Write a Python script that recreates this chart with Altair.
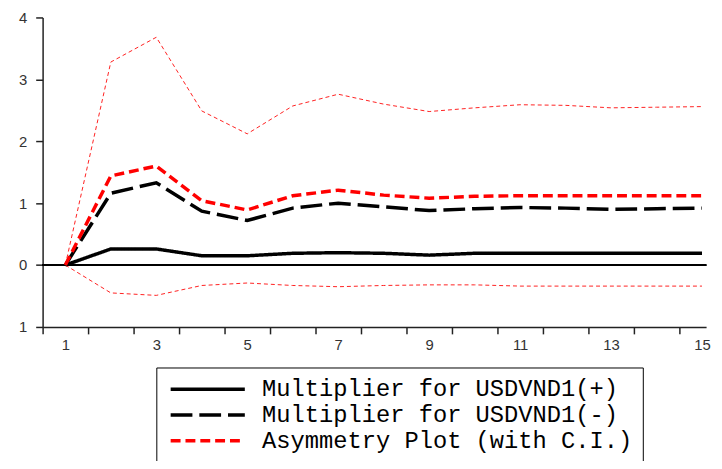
import altair as alt
import pandas as pd

periods = list(range(1, 16))
mult_pos = [0, 0.26, 0.26, 0.15, 0.15, 0.19, 0.20, 0.19, 0.16, 0.19, 0.19, 0.19, 0.19, 0.19, 0.19]
mult_neg = [0, 1.16, 1.33, 0.87, 0.72, 0.92, 1.00, 0.94, 0.88, 0.91, 0.93, 0.92, 0.90, 0.91, 0.92]
asym = [0, 1.44, 1.60, 1.04, 0.89, 1.12, 1.21, 1.13, 1.08, 1.11, 1.12, 1.12, 1.12, 1.12, 1.12]
ci_upper = [0, 3.28, 3.68, 2.49, 2.12, 2.57, 2.76, 2.60, 2.48, 2.54, 2.59, 2.58, 2.54, 2.55, 2.56]
ci_lower = [0, -0.45, -0.49, -0.33, -0.29, -0.33, -0.35, -0.33, -0.32, -0.32, -0.34, -0.34, -0.34, -0.34, -0.34]

x_tick_marks = [i + 0.5 for i in range(0, 16)]
x_tick_labels = [1, 3, 5, 7, 9, 11, 13, 15]
y_ticks = [-1, 0, 1, 2, 3, 4]

names = ["Multiplier for USDVND1(+)", "Multiplier for USDVND1(-)", "Asymmetry Plot (with C.I.)"]

rows = []
for name, vals in zip(names, [mult_pos, mult_neg, asym]):
    for k, v in zip(periods, vals):
        rows.append({"k": k, "v": v, "series": name})
df = pd.DataFrame(rows)

ci_rows = []
for name, vals in zip(["upper", "lower"], [ci_upper, ci_lower]):
    for k, v in zip(periods, vals):
        ci_rows.append({"k": k, "v": v, "band": name})
df_ci = pd.DataFrame(ci_rows)

xscale = alt.Scale(domain=[0.5, 15.09], nice=False, zero=False)
yscale = alt.Scale(domain=[-1, 4], nice=False, zero=False)

yaxis = alt.Axis(values=y_ticks, title=None, grid=False, tickSize=7, labelPadding=9,
                 labelExpr="datum.value < 0 ? '1' : datum.label",
                 labelFont="Liberation Sans", labelFontSize=15, labelColor="#333333",
                 domainColor="#222222", tickColor="#222222")

legend = alt.Legend(orient="none", legendX=115, legendY=354, title=None,
                    symbolType="M-1,0H9", symbolSize=225, symbolStrokeWidth=4,
                    labelFontSize=24, labelFont="Liberation Mono", labelColor="black",
                    labelLimit=700, strokeColor="black", fillColor="white",
                    padding=10, rowPadding=2, labelOffset=73)

zero_rule = alt.Chart(df_ci).mark_rule(color="black", strokeWidth=1).encode(
    y=alt.datum(0, scale=yscale, axis=yaxis)
)

ci = alt.Chart(df_ci).mark_line(color="#ff2020", strokeWidth=1, strokeDash=[4, 3]).encode(
    x=alt.X("k:Q", scale=xscale,
            axis=alt.Axis(values=x_tick_marks, labels=False, title=None, grid=False, tickSize=7,
                          orient="bottom", domainColor="#222222", tickColor="#222222")),
    y=alt.Y("v:Q", scale=yscale, axis=yaxis),
    detail="band:N",
)

lines = alt.Chart(df).mark_line().encode(
    x=alt.X("k:Q", scale=xscale,
            axis=alt.Axis(values=x_tick_labels, ticks=False, domain=False, title=None, grid=False,
                          orient="bottom", labelPadding=11, labelFont="Liberation Sans",
                          labelFontSize=15, labelColor="#333333")),
    y=alt.Y("v:Q", scale=yscale, axis=yaxis),
    color=alt.Color("series:N", scale=alt.Scale(domain=names, range=["#000000", "#000000", "#ff0000"]),
                    legend=legend),
    strokeDash=alt.StrokeDash("series:N", scale=alt.Scale(domain=names, range=[[1, 0], [22, 7], [10, 5]]),
                              legend=legend),
    strokeWidth=alt.StrokeWidth("series:N", scale=alt.Scale(domain=names, range=[3.5, 3.5, 4]), legend=None),
)

chart = alt.layer(zero_rule, ci, lines).resolve_axis(x="independent").properties(
    width=671, height=313,
    autosize=alt.AutoSizeParams(type="none"),
    padding={"left": 35, "top": 7, "right": 8, "bottom": 133},
).configure_view(stroke=None).configure_axis(domainWidth=1.5, tickWidth=1.5)

chart.save("out.html", embed_options={"renderer": "svg", "actions": False})
